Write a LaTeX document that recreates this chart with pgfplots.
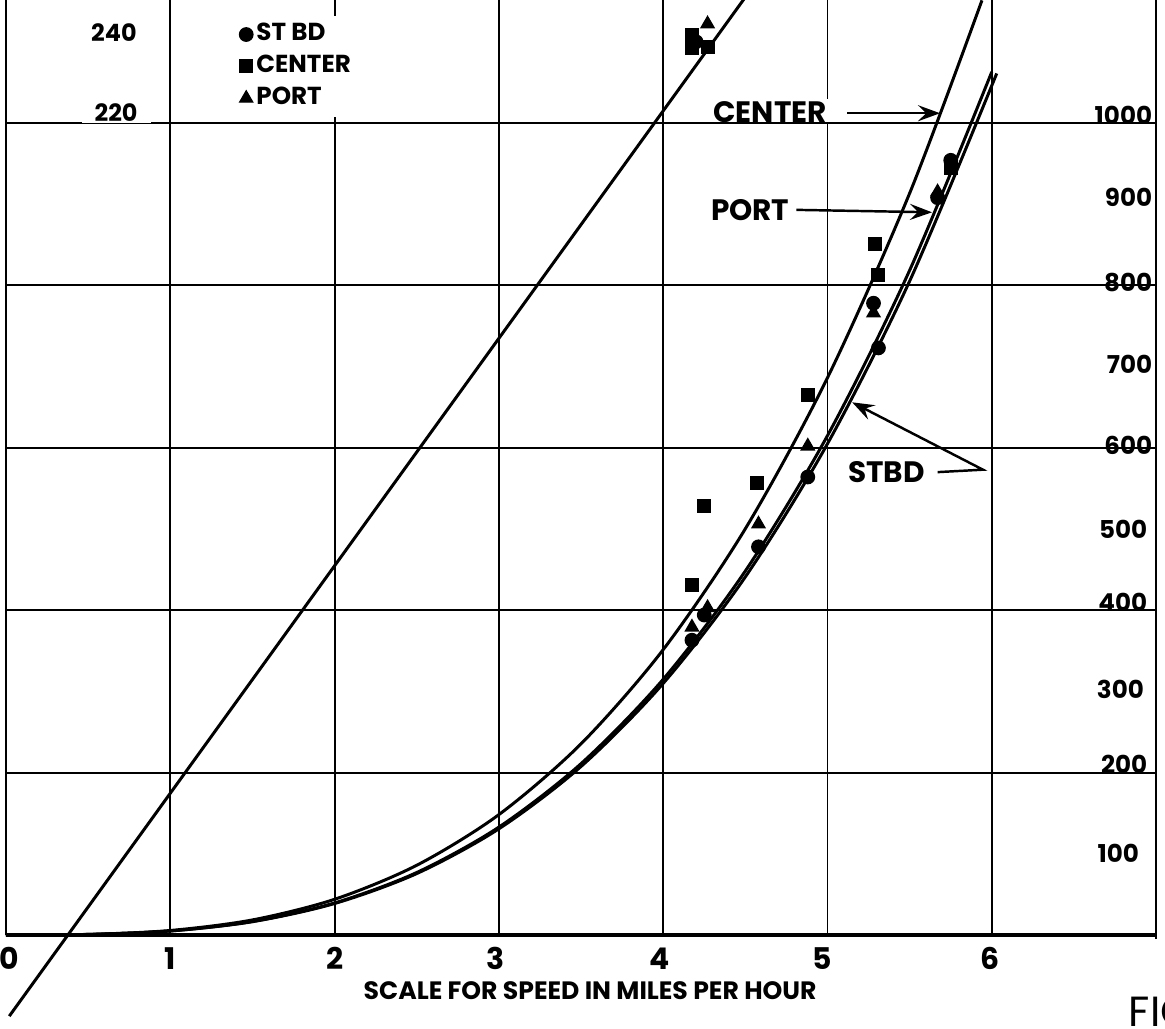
\documentclass[border=0pt]{standalone}
\usepackage{fontspec}
\setmainfont{Poppins}
\usepackage{pgfplots}
\pgfplotsset{compat=1.18}
\usetikzlibrary{arrows.meta}
\newcommand\numf{\fontsize{6.8}{7}\selectfont\bfseries}
\newcommand\rnumf{\fontsize{7}{7}\selectfont\bfseries}
\newcommand\tickf{\fontsize{8.5}{9}\selectfont\bfseries}
\newcommand\lgdf{\fontsize{7}{8}\selectfont\bfseries}
\newcommand\lblf{\fontsize{8.4}{9}\selectfont\bfseries}
\newcommand\ttlf{\fontsize{7.15}{8}\selectfont\bfseries}
\begin{document}
\begin{tikzpicture}
\useasboundingbox (0,0) rectangle (11.65cm,10.29cm);
\begin{axis}[
  at={(0,0)}, anchor=south west,
  scale only axis, width=11.65cm, height=10.29cm,
  xmin=-0.0365, xmax=7.054, ymin=-115.8, ymax=1151.5,
  hide axis, clip=false,
  legend style={at={(rel axis cs:0.202,0.985)}, anchor=north west, draw=none, fill=white,
    font=\lgdf, inner sep=1pt, row sep=0.6pt, nodes={inner sep=1pt}},
  legend cell align=left,
  legend image code/.code={\draw[mark repeat=2,mark phase=2,#1] plot coordinates {(0cm,0cm)(0.08cm,0cm)(0.21cm,0cm)};},
  gridl/.style={black, line width=0.55pt, forget plot},
  curve/.style={black, line width=0.85pt, smooth, no marks, forget plot},
]
% vertical grid lines
\pgfplotsinvokeforeach{1,2,3,4,5,6}{\addplot[gridl] coordinates {(#1,0) (#1,1151.5)};}
\addplot[gridl] coordinates {(0,0) (0,1151.5)};
\addplot[gridl] coordinates {(7,-5) (7,1151.5)};
% label that breaks the x=5 line
\node[font=\lblf, fill=white, inner xsep=1.2pt, inner ysep=0.5pt] at (axis cs:4.65,1014) {CENTER};
% horizontal grid lines
\pgfplotsinvokeforeach{200,400,600,800,1000}{\addplot[gridl] coordinates {(0,#1) (7,#1)};}
\addplot[black, line width=1.1pt, forget plot] coordinates {(0,0) (7,0)};
% left scale labels
\node[font=\numf] at (axis cs:0.657,1111) {240};
\node[font=\numf, fill=white, inner xsep=1.3mm, inner ysep=0.5pt] at (axis cs:0.67,1013) {220};
% right scale labels
\node[font=\rnumf, anchor=east, inner sep=0pt] at (axis cs:6.98,1010) {1000};
\node[font=\rnumf, anchor=east, inner sep=0pt] at (axis cs:6.98,909) {900};
\node[font=\rnumf, anchor=east, inner sep=0pt] at (axis cs:6.98,803) {800};
\node[font=\rnumf, anchor=east, inner sep=0pt] at (axis cs:6.98,703) {700};
\node[font=\rnumf, anchor=east, inner sep=0pt] at (axis cs:6.98,603) {600};
\node[font=\rnumf, anchor=east, inner sep=0pt] at (axis cs:6.95,499) {500};
\node[font=\rnumf, anchor=east, inner sep=0pt] at (axis cs:6.95,410) {400};
\node[font=\rnumf, anchor=east, inner sep=0pt] at (axis cs:6.93,303) {300};
\node[font=\rnumf, anchor=east, inner sep=0pt] at (axis cs:6.95,210) {200};
\node[font=\rnumf, anchor=east, inner sep=0pt] at (axis cs:6.90,101) {100};
% x tick labels
\node[font=\tickf] at (axis cs:0.02,-29) {0};
\node[font=\tickf] at (axis cs:1.0,-29) {1};
\node[font=\tickf] at (axis cs:2.0,-29) {2};
\node[font=\tickf] at (axis cs:2.98,-29) {3};
\node[font=\tickf] at (axis cs:3.98,-29) {4};
\node[font=\tickf] at (axis cs:4.97,-29) {5};
\node[font=\tickf] at (axis cs:5.99,-29) {6};
\node[font=\ttlf] at (axis cs:3.555,-68) {SCALE FOR SPEED IN MILES PER HOUR};
\node[font=\fontsize{12}{12}\selectfont, anchor=west, inner sep=0pt] at (axis cs:6.83,-95) {FIG};
% curve labels and arrows
\node[font=\lblf] at (axis cs:4.53,893) {PORT};
\node[font=\lblf] at (axis cs:5.36,570) {STBD};
\draw[line width=0.7pt, -{Stealth[length=2.2mm,width=1.6mm,inset=0.8mm]}] (axis cs:5.12,1012) -- (axis cs:5.685,1012);
\draw[line width=0.7pt, -{Stealth[length=2.2mm,width=1.6mm,inset=0.8mm]}] (axis cs:4.81,893) -- (axis cs:5.636,890);
\draw[line width=0.7pt, -{Stealth[length=2.2mm,width=1.6mm,inset=0.8mm]}] (axis cs:5.67,570) -- (axis cs:5.946,573) -- (axis cs:5.15,656);
% straight line (left scale)
\addplot[black, line width=0.85pt, forget plot] coordinates {(0.02,-100) (4.55,1169)};
% curves
\addplot[curve] coordinates {(0,0)(0.5,0.69)(1,5.5)(1.5,18.5)(2,43.9)(2.5,85.8)(3,148.2)(3.5,235.4)(4,351.4)(4.5,500.3)(5,686.3)(5.5,913.5)(5.94,1151)};
\addplot[curve] coordinates {(0,0)(0.5,0.62)(1,4.92)(1.5,16.6)(2,39.4)(2.5,76.9)(3,132.8)(3.5,211)(4,314.9)(4.5,448.3)(5,615)(5.5,818.6)(6.0,1063)};
\addplot[curve] coordinates {(0,0)(0.5,0.6)(1,4.84)(1.5,16.3)(2,38.7)(2.5,75.6)(3,130.7)(3.5,207.5)(4,309.8)(4.5,441)(5,605)(5.5,805.3)(6.03,1061)};
% data points
\addplot[only marks, mark=*, mark size=1.9pt, black] coordinates {(4.175,363)(4.25,394)(4.58,478)(4.88,564)(5.28,778)(5.31,723)(5.67,908)(5.75,954)(4.2,1100)};
\addlegendentry{ST BD}
\addplot[only marks, mark=square*, mark size=1.8pt, black] coordinates {(4.175,431)(4.25,528)(4.57,557)(4.88,665)(5.29,851)(5.31,813)(5.75,945)(4.175,1108)(4.175,1092)(4.27,1094)};
\addlegendentry{CENTER}
\addplot[only marks, mark=triangle*, mark size=2.1pt, black] coordinates {(4.175,379)(4.27,403)(4.58,506)(4.88,602)(5.28,766)(5.67,915)(4.27,1122)};
\addlegendentry{PORT}
\end{axis}
\end{tikzpicture}
\end{document}
